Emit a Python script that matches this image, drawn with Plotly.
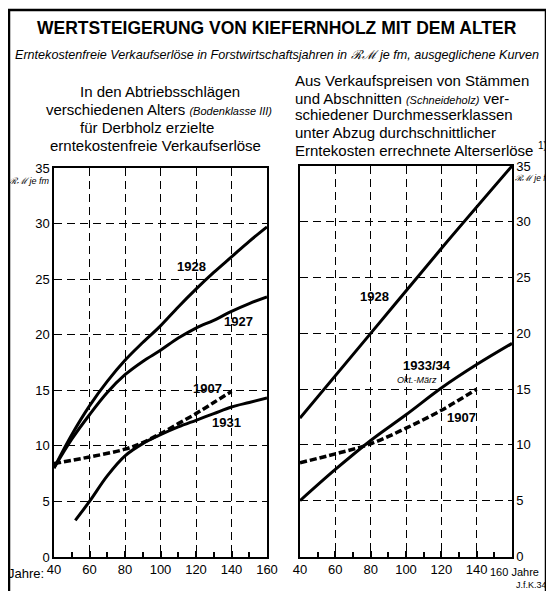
import plotly.graph_objects as go

# ---- data ----
years_l_1928 = [40, 50, 60, 70, 80, 90, 100, 110, 120, 130, 140, 150, 160]
vals_l_1928 = [8.0, 11.0, 13.6, 15.8, 17.7, 19.3, 20.8, 22.5, 24.1, 25.6, 27.0, 28.4, 29.7]
years_l_1927 = [40, 50, 60, 70, 80, 90, 100, 110, 120, 130, 140, 150, 160]
vals_l_1927 = [8.0, 10.6, 12.8, 14.8, 16.4, 17.6, 18.6, 19.7, 20.6, 21.3, 22.1, 22.8, 23.4]
years_l_1907 = [40, 60, 80, 90, 100, 110, 120, 130, 140]
vals_l_1907 = [8.4, 9.0, 9.7, 10.3, 11.1, 12.0, 12.9, 13.9, 14.9]
years_l_1931 = [52, 60, 70, 80, 90, 100, 110, 120, 130, 140, 150, 160]
vals_l_1931 = [3.3, 5.0, 7.3, 9.1, 10.2, 11.0, 11.7, 12.3, 12.9, 13.5, 13.9, 14.3]

years_r_1928 = [40, 80, 120, 160]
vals_r_1928 = [12.4, 20.0, 27.6, 35.0]
years_r_1933 = [40, 60, 80, 100, 120, 140, 160]
vals_r_1933 = [5.0, 7.8, 10.4, 12.7, 15.1, 17.2, 19.1]
years_r_1907 = [40, 60, 80, 100, 120, 140]
vals_r_1907 = [8.4, 9.2, 10.1, 11.5, 13.1, 15.0]

x_ticks = [40, 60, 80, 100, 120, 140, 160]
x_ticktext_left = ["40", "60", "80", "100", "120", "140", "160"]
x_ticktext_right = ["40", "60", "80", "100", "120", "140", ""]
y_ticks = [0, 5, 10, 15, 20, 25, 30, 35]

# page body has an 8px margin: figure fills the rest of the 554x591 window
OFF = 8
W, H = 554 - OFF, 591 - OFF
FONT = "Liberation Sans, Arial, sans-serif"

def px(x):
    return (x - OFF) / W

def py(y):
    return 1 - (y - OFF) / H

fig = go.Figure()

solid = dict(color="black", width=3, shape="spline")
dashed = dict(color="black", width=3.5, dash="7px,3px", shape="spline")

fig.add_trace(go.Scatter(x=years_l_1928, y=vals_l_1928, mode="lines", line=solid, xaxis="x", yaxis="y"))
fig.add_trace(go.Scatter(x=years_l_1927, y=vals_l_1927, mode="lines", line=solid, xaxis="x", yaxis="y"))
fig.add_trace(go.Scatter(x=years_l_1907, y=vals_l_1907, mode="lines", line=dashed, xaxis="x", yaxis="y"))
fig.add_trace(go.Scatter(x=years_l_1931, y=vals_l_1931, mode="lines", line=solid, xaxis="x", yaxis="y"))

fig.add_trace(go.Scatter(x=years_r_1928, y=vals_r_1928, mode="lines", line=solid, xaxis="x2", yaxis="y2"))
fig.add_trace(go.Scatter(x=years_r_1933, y=vals_r_1933, mode="lines", line=solid, xaxis="x2", yaxis="y2"))
fig.add_trace(go.Scatter(x=years_r_1907, y=vals_r_1907, mode="lines", line=dashed, xaxis="x2", yaxis="y2"))

tickfont = dict(family=FONT, size=13, color="black")

xcommon = dict(range=[40, 160], tickvals=x_ticks, tickangle=0,
               showline=True, linecolor="black", linewidth=1.5, mirror=True,
               showgrid=True, gridcolor="black", gridwidth=1.2, griddash="8px,5px",
               ticks="inside", ticklen=6, tickcolor="black", tickwidth=1.5,
               minor=dict(dtick=10, tick0=40, ticks="inside", ticklen=5, tickcolor="black", tickwidth=1.5, showgrid=False),
               zeroline=False, tickfont=tickfont, fixedrange=True, automargin=False)
ycommon = dict(range=[0, 35], tickvals=y_ticks, ticktext=[str(v) for v in y_ticks],
               showline=True, linecolor="black", linewidth=1.5, mirror=True,
               showgrid=True, gridcolor="black", gridwidth=1.2, griddash="8px,5px",
               ticks="", zeroline=False, tickfont=tickfont, fixedrange=True, automargin=False)

fig.update_layout(
    width=W, height=H, autosize=False,
    margin=dict(l=0, r=0, t=0, b=0, pad=0),
    paper_bgcolor="white", plot_bgcolor="white",
    showlegend=False,
    xaxis=dict(domain=[px(54), px(267)], anchor="y", ticktext=x_ticktext_left, **xcommon),
    yaxis=dict(domain=[py(557), py(168)], anchor="x", side="left", **ycommon),
    xaxis2=dict(domain=[px(300), px(512)], anchor="y2", ticktext=x_ticktext_right, **xcommon),
    yaxis2=dict(domain=[py(556.5), py(166)], anchor="x2", side="right", **ycommon),
)

anns = []

def A(text, x, y, size=14, anchor="center", bold=False, italic=False, xref="paper", yref="paper", yanchor="middle"):
    t = text
    if bold:
        t = "<b>" + t + "</b>"
    if italic:
        t = "<i>" + t + "</i>"
    anns.append(dict(text=t, x=x, y=y, xref=xref, yref=yref, xanchor=anchor, yanchor=yanchor,
                     showarrow=False, font=dict(family=FONT, size=size, color="black")))

# titles
A("WERTSTEIGERUNG VON KIEFERNHOLZ MIT DEM ALTER", px(277), py(28), size=17.5, bold=True)
A("Erntekostenfreie Verkaufserlöse in Forstwirtschaftsjahren in ℛℳ je fm, ausgeglichene Kurven",
  px(277), py(55), size=12.6, italic=True)

# left header
A("In den Abtriebsschlägen", px(160), py(91), size=15)
A("verschiedenen Alters <i><span style='font-size:11px'>(Bodenklasse III)</span></i>", px(159), py(109), size=15)
A("für Derbholz erzielte", px(147), py(127), size=15)
A("erntekostenfreie Verkaufserlöse", px(155), py(145), size=15)

# right header
A("Aus Verkaufspreisen von Stämmen", px(293), py(80), size=15, anchor="left")
A("und Abschnitten <i><span style='font-size:11px'>(Schneideholz)</span></i> ver-", px(293), py(98), size=15, anchor="left")
A("schiedener Durchmesserklassen", px(293), py(115), size=15, anchor="left")
A("unter Abzug durchschnittlicher", px(293), py(133), size=15, anchor="left")
A("Erntekosten errechnete Alterserlöse", px(293), py(150), size=15, anchor="left")
A("1)", px(536), py(145), size=10, anchor="left")

# unit labels
A("<i>ℛℳ je fm</i>", px(52), py(181), size=9, anchor="right")
A("<i>ℛℳ je fm</i>", px(513), py(178), size=8.5, anchor="left")

# axis word labels
A("Jahre:", px(46), py(573), size=13, anchor="right")
A("160 Jahre", px(488), py(572), size=11, anchor="left")
A("J.f.K.34", px(514), py(585), size=9, anchor="left")

# curve labels (data coords)
A("1928", 117.4, 26.1, size=13, bold=True, xref="x", yref="y")
A("1927", 143.8, 21.15, size=13, bold=True, xref="x", yref="y")
A("1907", 126.4, 15.2, size=13, bold=True, xref="x", yref="y")
A("1931", 137.0, 12.06, size=13, bold=True, xref="x", yref="y")
A("1928", 82.4, 23.3, size=13, bold=True, xref="x2", yref="y2")
A("1933/34", 111.7, 17.1, size=13, bold=True, xref="x2", yref="y2")
A("Okt.-März", 106.0, 15.85, size=9, italic=True, xref="x2", yref="y2")
A("1907", 131.5, 12.5, size=13, bold=True, xref="x2", yref="y2")

fig.update_layout(annotations=anns)

fig.add_shape(type="rect", xref="paper", yref="paper",
              x0=px(9), x1=px(546), y0=-0.05, y1=py(10),
              line=dict(color="black", width=2.5), layer="below")

fig.write_html("out.html")
